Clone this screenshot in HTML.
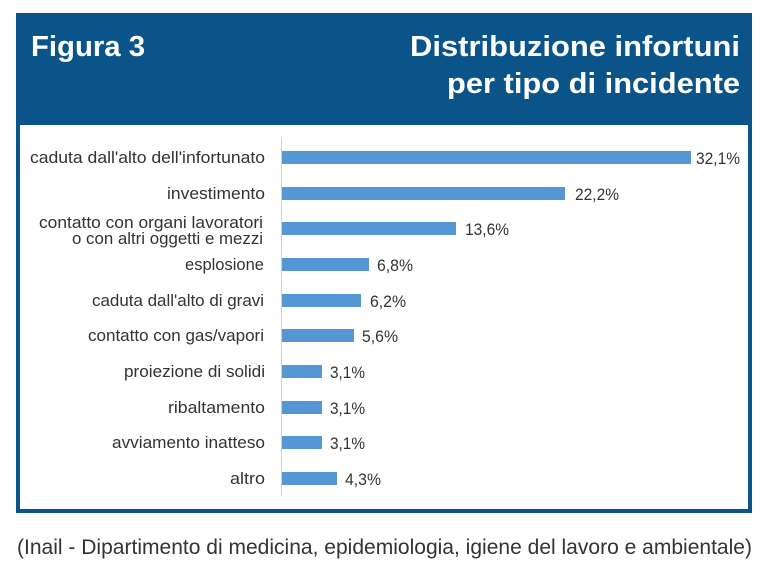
<!DOCTYPE html>
<html><head><meta charset="utf-8"><style>
html,body{margin:0;padding:0;background:#fff;}
svg{display:block}
</style></head><body>
<svg width="769" height="564" xmlns="http://www.w3.org/2000/svg" font-family="Liberation Sans, DejaVu Sans, sans-serif">
<rect x="0" y="0" width="769" height="564" fill="#fff"/>
<rect x="16" y="15" width="736" height="110" fill="#0b548a"/>
<rect x="18" y="15" width="732" height="496" fill="none" stroke="#0b548a" stroke-width="4"/>
<text x="31" y="56" font-size="29" font-weight="bold" fill="#fff" textLength="114" lengthAdjust="spacingAndGlyphs">Figura 3</text>
<text x="740" y="56" font-size="29" font-weight="bold" fill="#fff" text-anchor="end" textLength="330" lengthAdjust="spacingAndGlyphs">Distribuzione infortuni</text>
<text x="740" y="93" font-size="29" font-weight="bold" fill="#fff" text-anchor="end" textLength="293" lengthAdjust="spacingAndGlyphs">per tipo di incidente</text>
<line x1="281.5" y1="138" x2="281.5" y2="496" stroke="#d0d0d0" stroke-width="1"/>
<g fill="#5597d2">
<rect x="282" y="151" width="409" height="13"/>
<rect x="282" y="187" width="283" height="13"/>
<rect x="282" y="222" width="174" height="13"/>
<rect x="282" y="258" width="87" height="13"/>
<rect x="282" y="294" width="79" height="13"/>
<rect x="282" y="329" width="72" height="13"/>
<rect x="282" y="365" width="40" height="13"/>
<rect x="282" y="401" width="40" height="13"/>
<rect x="282" y="436" width="40" height="13"/>
<rect x="282" y="472" width="55" height="13"/>
</g>
<g font-size="16.5" fill="#333" text-anchor="end">
<text x="265" y="163" textLength="235" lengthAdjust="spacingAndGlyphs">caduta dall'alto dell'infortunato</text>
<text x="265" y="199" textLength="98" lengthAdjust="spacingAndGlyphs">investimento</text>
<text x="263" y="228" textLength="224" lengthAdjust="spacingAndGlyphs">contatto con organi lavoratori</text>
<text x="263" y="244" textLength="191" lengthAdjust="spacingAndGlyphs">o con altri oggetti e mezzi</text>
<text x="264" y="270" textLength="79" lengthAdjust="spacingAndGlyphs">esplosione</text>
<text x="264" y="306" textLength="172" lengthAdjust="spacingAndGlyphs">caduta dall'alto di gravi</text>
<text x="264" y="341" textLength="176" lengthAdjust="spacingAndGlyphs">contatto con gas/vapori</text>
<text x="265" y="377" textLength="141" lengthAdjust="spacingAndGlyphs">proiezione di solidi</text>
<text x="265" y="413" textLength="97" lengthAdjust="spacingAndGlyphs">ribaltamento</text>
<text x="265" y="448" textLength="153" lengthAdjust="spacingAndGlyphs">avviamento inatteso</text>
<text x="265" y="484" textLength="35" lengthAdjust="spacingAndGlyphs">altro</text>
</g>
<g font-size="16.5" fill="#333">
<text x="696" y="164" textLength="44" lengthAdjust="spacingAndGlyphs">32,1%</text>
<text x="575" y="200" textLength="44" lengthAdjust="spacingAndGlyphs">22,2%</text>
<text x="465" y="235" textLength="44" lengthAdjust="spacingAndGlyphs">13,6%</text>
<text x="377" y="271" textLength="36" lengthAdjust="spacingAndGlyphs">6,8%</text>
<text x="370" y="307" textLength="36" lengthAdjust="spacingAndGlyphs">6,2%</text>
<text x="362" y="342" textLength="36" lengthAdjust="spacingAndGlyphs">5,6%</text>
<text x="330" y="378" textLength="35" lengthAdjust="spacingAndGlyphs">3,1%</text>
<text x="330" y="414" textLength="35" lengthAdjust="spacingAndGlyphs">3,1%</text>
<text x="330" y="449" textLength="35" lengthAdjust="spacingAndGlyphs">3,1%</text>
<text x="345" y="485" textLength="36" lengthAdjust="spacingAndGlyphs">4,3%</text>
</g>
<text x="17" y="554" font-size="21" fill="#333" textLength="735" lengthAdjust="spacingAndGlyphs">(Inail - Dipartimento di medicina, epidemiologia, igiene del lavoro e ambientale)</text>
</svg>
</body></html>
